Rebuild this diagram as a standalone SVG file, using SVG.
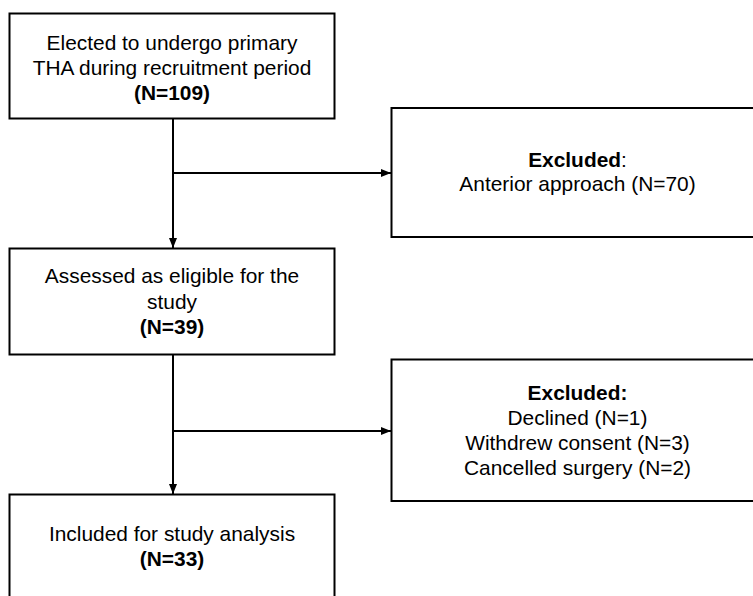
<svg xmlns="http://www.w3.org/2000/svg" width="753" height="596" viewBox="0 0 753 596">
<style>
.box{fill:#fff;stroke:#000;stroke-width:2}
.t{font-family:"Liberation Sans",Arial,sans-serif;font-size:20.9px;fill:#000;text-anchor:middle}
.b{font-weight:bold}
.ln{stroke:#000;stroke-width:2;fill:none}
</style>
<defs>
<marker id="ah" viewBox="0 0 10 10" refX="10" refY="5" markerWidth="10" markerHeight="10" markerUnits="userSpaceOnUse" orient="auto">
<path d="M0,1 L10,5 L0,9 Z" fill="#000"/>
</marker>
</defs>
<rect width="753" height="596" fill="#fff"/>
<g id="connectors">
<line class="ln" x1="173" y1="118" x2="173" y2="248" marker-end="url(#ah)"/>
<line class="ln" x1="173" y1="173" x2="391" y2="173" marker-end="url(#ah)"/>
<line class="ln" x1="173" y1="354" x2="173" y2="494" marker-end="url(#ah)"/>
<line class="ln" x1="173" y1="431" x2="391" y2="431" marker-end="url(#ah)"/>
</g>
<g id="n1">
<rect class="box" x="9.5" y="13.5" width="325" height="105"/>
<text class="t" x="172" y="50">Elected to undergo primary</text>
<text class="t" x="172" y="75">THA during recruitment period</text>
<text class="t b" x="172" y="99.5">(N=109)</text>
</g>
<g id="n2">
<rect class="box" x="391.5" y="108" width="380" height="129"/>
<text class="t" x="577.5" y="167"><tspan class="b">Excluded</tspan>:</text>
<text class="t" x="577.5" y="191">Anterior approach (N=70)</text>
</g>
<g id="n3">
<rect class="box" x="9.5" y="248.5" width="325" height="106"/>
<text class="t" x="172" y="283">Assessed as eligible for the</text>
<text class="t" x="172" y="308.5">study</text>
<text class="t b" x="172" y="334">(N=39)</text>
</g>
<g id="n4">
<rect class="box" x="391.5" y="359.5" width="380" height="141.5"/>
<text class="t b" x="577.5" y="400">Excluded:</text>
<text class="t" x="577.5" y="425">Declined (N=1)</text>
<text class="t" x="577.5" y="450">Withdrew consent (N=3)</text>
<text class="t" x="577.5" y="475">Cancelled surgery (N=2)</text>
</g>
<g id="n5">
<rect class="box" x="9.5" y="494.5" width="325" height="120"/>
<text class="t" x="172" y="541">Included for study analysis</text>
<text class="t b" x="172" y="566">(N=33)</text>
</g>
</svg>
